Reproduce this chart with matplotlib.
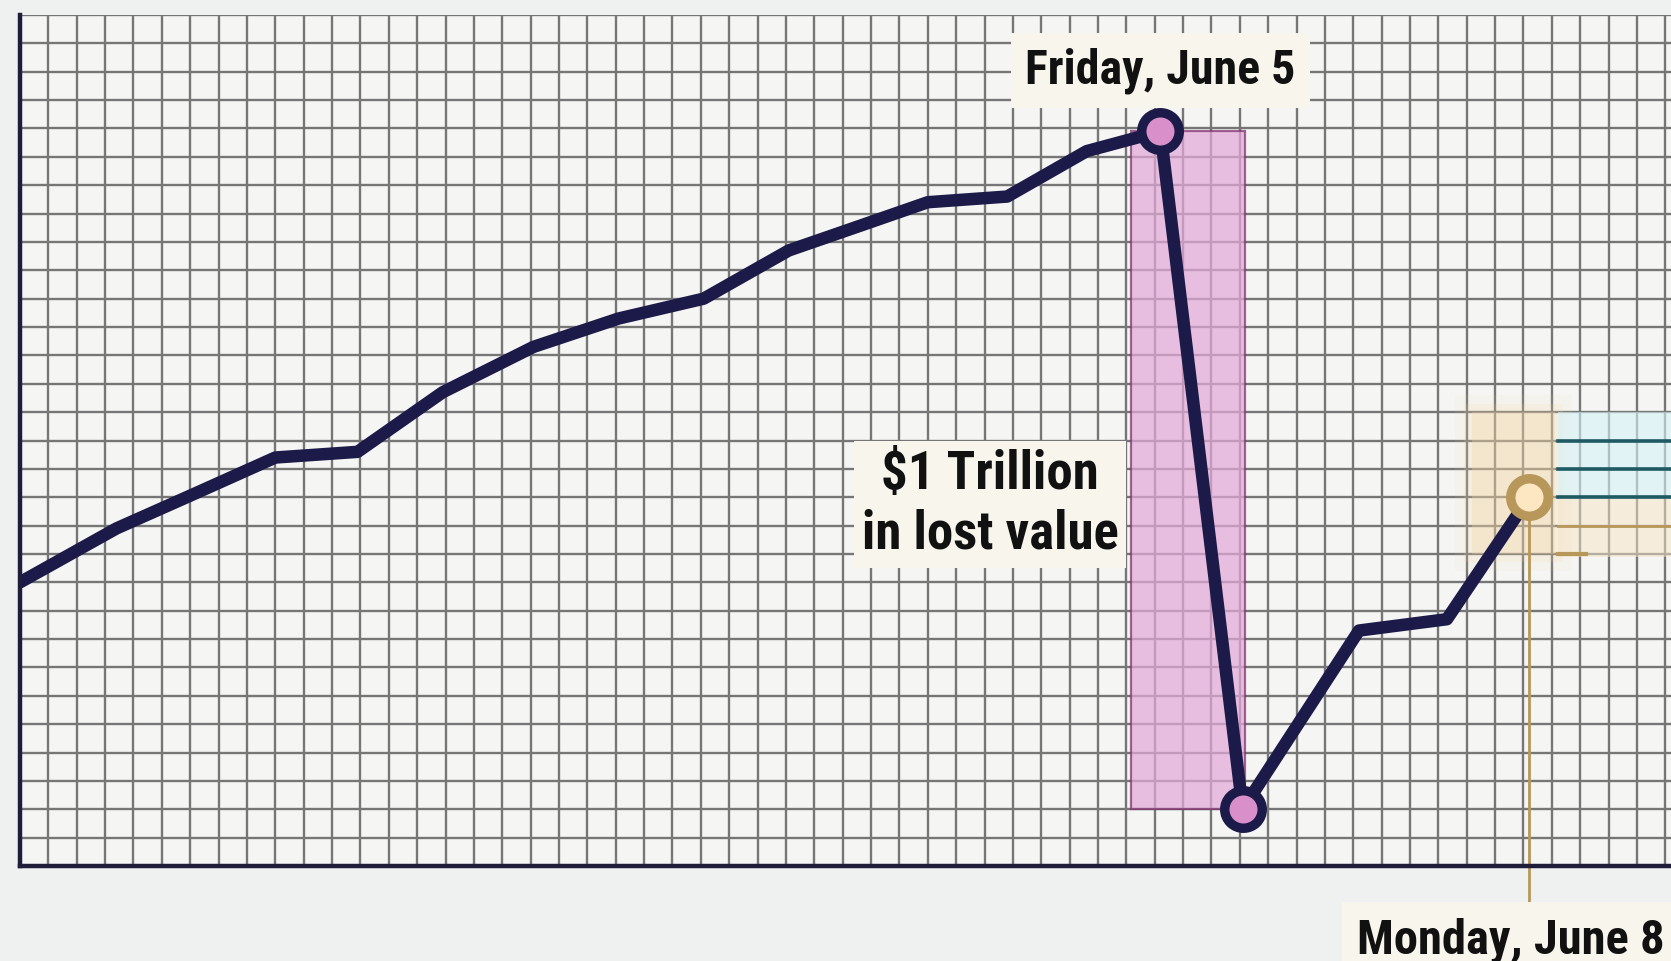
import numpy as np
import matplotlib.pyplot as plt
from matplotlib.patches import Rectangle

# index path in grid units (x = trading time, y = value)
x_time = [0.0, 3.4, 6.1, 9.0, 11.9, 14.9, 18.1, 21.1, 24.1, 27.1,
          29.7, 32.0, 34.8, 37.6, 40.2, 43.1, 47.2, 50.3, 53.2]
y_value = [10.0, 11.9, 13.1, 14.4, 14.6, 16.7, 18.3, 19.3, 20.0, 21.7,
           22.6, 23.4, 23.6, 25.2, 25.9, 2.0, 8.3, 8.7, 13.0]
peak_idx = 14
trough_idx = 15
monday_idx = 18

label_peak = "Friday, June 5"
label_loss = "$1 Trillion\nin lost value"
label_monday = "Monday, June 8"

teal_levels = [15, 14, 13]
tan_levels = [12]

NAVY = "#1c1a48"
PINK = "#e2a9d8"
TAN = "#b8975a"
CREAM = "#f8f6ec"
FONT = ["Roboto Condensed", "Liberation Sans Narrow", "Roboto", "DejaVu Sans"]

fig = plt.figure(figsize=(16.71, 9.61), dpi=100, facecolor="#eff0f0")
ax = fig.add_axes([20 / 1671, 95 / 961, 1 - 20 / 1671, 851 / 961])
ax.set_facecolor("#f5f5f3")
ax.set_xlim(0, 58.2)
ax.set_ylim(0, 30)

# graph paper grid
ax.set_xticks(np.arange(0, 59))
ax.set_yticks(np.arange(0, 31))
ax.tick_params(length=0, labelbottom=False, labelleft=False)
ax.grid(True, color="#767676", linewidth=1.7, zorder=0)
ax.set_axisbelow(True)
for s in ["top", "right"]:
    ax.spines[s].set_visible(False)
for s in ["left", "bottom"]:
    ax.spines[s].set_color("#1f1d3a")
    ax.spines[s].set_linewidth(3.2)
    ax.spines[s].set_zorder(4)

# drop highlight box
x_left = x_time[peak_idx] - 1.05
ax.add_patch(Rectangle((x_left, y_value[trough_idx]),
                       x_time[trough_idx] + 0.1 - x_left,
                       y_value[peak_idx] - y_value[trough_idx],
                       facecolor=PINK, alpha=0.72, edgecolor="#7e2f6e",
                       linewidth=1.6, zorder=1))

# glow around Monday point
xm, ym = x_time[monday_idx], y_value[monday_idx]
for pad, a in [(0.0, 0.3), (0.3, 0.15), (0.6, 0.08)]:
    ax.add_patch(Rectangle((xm - 2.0 - pad, ym - 2.0 - pad), 2.9 + 2 * pad,
                           5.0 + 2 * pad, facecolor="#f3d7a2", alpha=a,
                           edgecolor="none", zorder=1))

# partial panel at right edge
ax.add_patch(Rectangle((54.2, 13), 4.0, 3.0, facecolor="#d6f3f7", alpha=0.6,
                       edgecolor="none", zorder=1))
ax.add_patch(Rectangle((54.2, 10.9), 4.0, 2.1, facecolor="#f5e4c4", alpha=0.5,
                       edgecolor="none", zorder=1))
for lv in teal_levels:
    ax.plot([54.2, 58.2], [lv, lv], color="#1f5a63", lw=2.6, zorder=2)
for lv in tan_levels:
    ax.plot([54.2, 58.2], [lv, lv], color=TAN, lw=2.0, zorder=2)
ax.plot([54.2, 55.2], [11, 11], color=TAN, lw=3.0, zorder=2)

# leader line to Monday label
ax.plot([xm, xm], [ym, -1.25], color=TAN, lw=2.0, zorder=2, clip_on=False)

# main line
ax.plot(x_time, y_value, color=NAVY, lw=9, solid_joinstyle="round",
        solid_capstyle="round", zorder=3)

# markers
for i in [peak_idx, trough_idx]:
    ax.plot(x_time[i], y_value[i], "o", ms=27, mew=6.8, mfc="#d88fca",
            mec=NAVY, zorder=5)
ax.plot(xm, ym, "o", ms=27, mew=6.8, mfc="#fde6c2", mec=TAN, zorder=5)

box = dict(boxstyle="square,pad=0.3", fc=CREAM, ec="none")
ax.text(x_time[peak_idx], 28.05, label_peak, ha="center", va="center",
        fontsize=34.5, fontweight="bold", family=FONT, color="#111111",
        bbox=box, zorder=6)
ax.text(34.2, 12.75, label_loss, ha="center", va="center", fontsize=38,
        fontweight="bold", family=FONT, color="#111111", linespacing=1.22,
        bbox=dict(boxstyle="square,pad=0.15", fc=CREAM, ec="none"), zorder=6)
ax.text(52.55, -2.62, label_monday, ha="center", va="center", fontsize=35,
        fontweight="bold", family=FONT, color="#111111", bbox=box,
        zorder=6, clip_on=False)

fig.savefig("out.png", dpi=100, facecolor=fig.get_facecolor())
